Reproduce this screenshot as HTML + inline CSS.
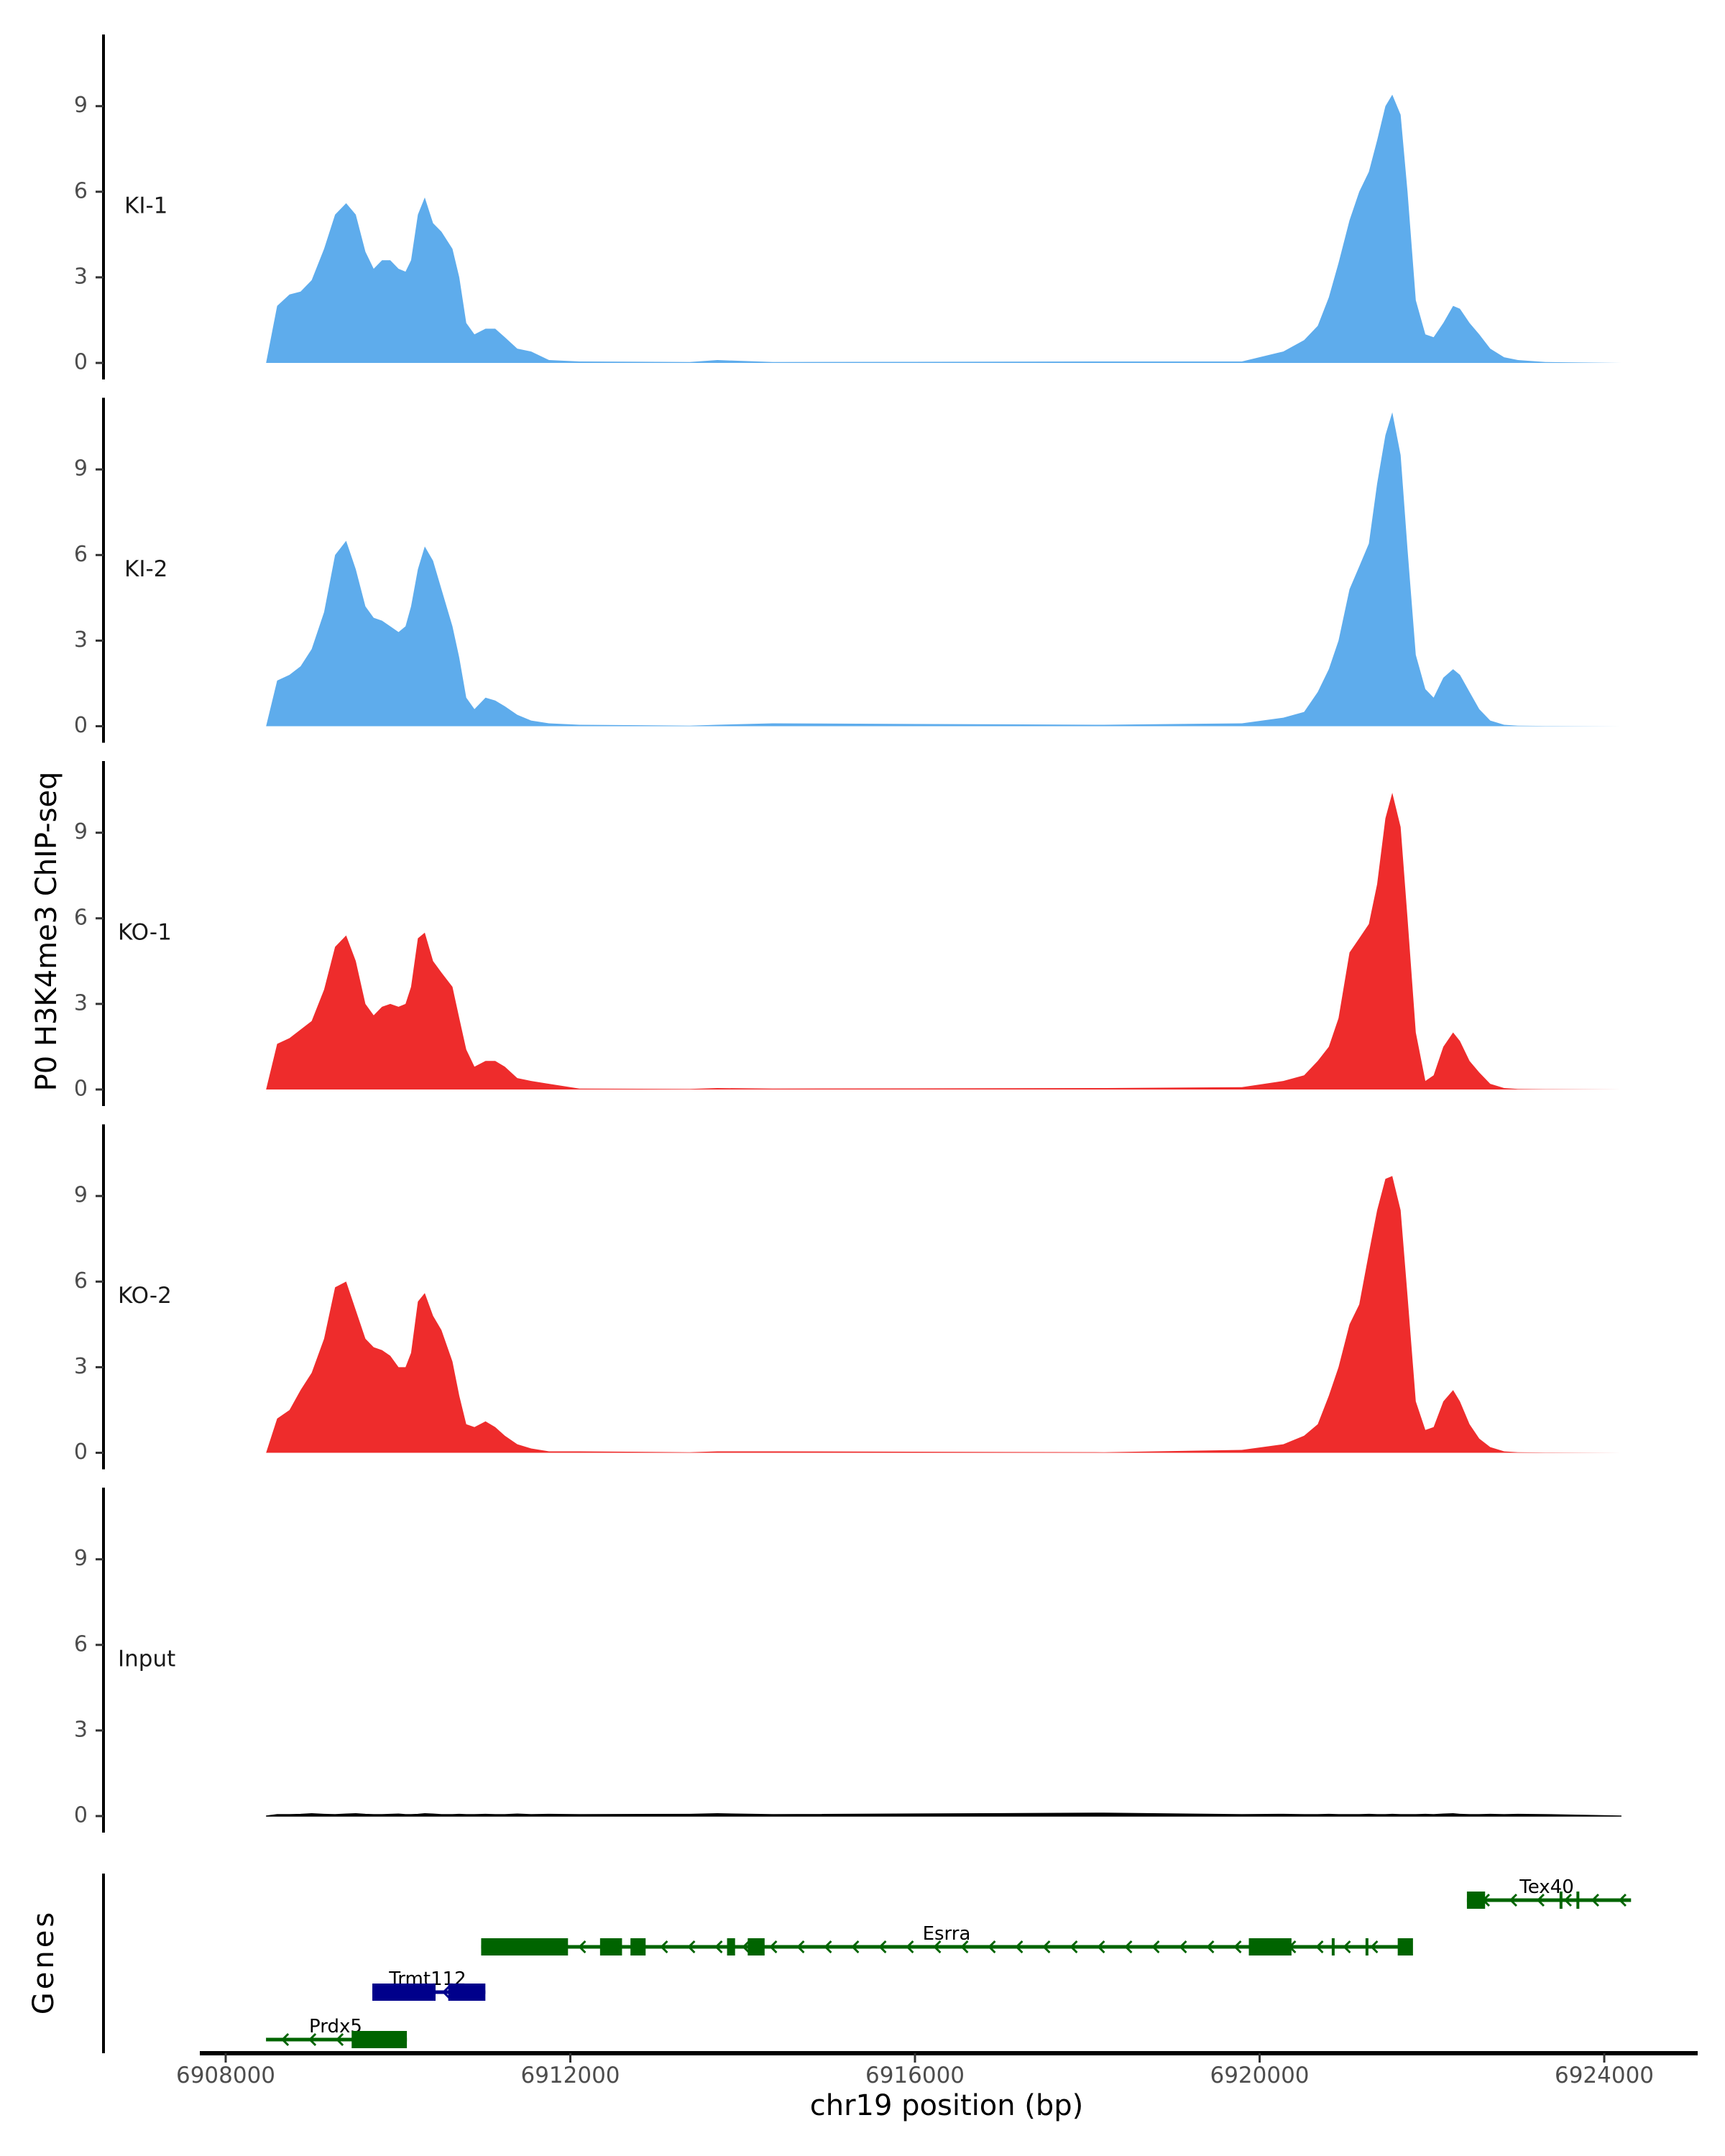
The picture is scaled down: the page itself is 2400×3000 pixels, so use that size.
<!DOCTYPE html>
<html><head><meta charset="utf-8"><style>
html,body{margin:0;padding:0;background:#fff}
svg{display:block;font-family:"DejaVu Sans","Liberation Sans",sans-serif}
</style></head><body>
<svg id="chart" width="2400" height="3000" viewBox="0 0 2400 3000" xmlns="http://www.w3.org/2000/svg">
<text x="67" y="1296" transform="rotate(-90 67 1296)" font-size="40" text-anchor="middle" dominant-baseline="middle" fill="#000">P0 H3K4me3 ChIP-seq</text>
<text x="63" y="2730" transform="rotate(-90 63 2730)" font-size="40" text-anchor="middle" dominant-baseline="middle" fill="#000" letter-spacing="4">Genes</text>
<text x="1317" y="2943" font-size="40" text-anchor="middle" fill="#000">chr19 position (bp)</text>
</svg>
<script>
const positions=[6908469,6908597,6908741,6908869,6908998,6909142,6909270,6909398,6909510,6909622,6909718,6909814,6909910,6910006,6910087,6910151,6910231,6910311,6910407,6910504,6910632,6910711,6910792,6910887,6911016,6911128,6911240,6911384,6911545,6911753,6912106,6913386,6913707,6914348,6918192,6919794,6920275,6920516,6920675,6920803,6920916,6921044,6921156,6921268,6921364,6921460,6921540,6921637,6921717,6921813,6921924,6922020,6922132,6922246,6922325,6922437,6922549,6922677,6922838,6922998,6923318,6924199];
const ki1=[0,2.0,2.4,2.5,2.9,4.0,5.2,5.6,5.2,3.9,3.3,3.6,3.6,3.3,3.2,3.6,5.2,5.8,4.9,4.6,4.0,3.0,1.4,1.0,1.2,1.2,0.9,0.5,0.4,0.1,0.05,0.03,0.1,0.03,0.05,0.05,0.4,0.8,1.3,2.3,3.5,5.0,6.0,6.7,7.8,9.0,9.4,8.7,6.0,2.2,1.0,0.9,1.4,2.0,1.9,1.4,1.0,0.5,0.2,0.1,0.03,0];
const ki2=[0,1.6,1.8,2.1,2.7,4.0,6.0,6.5,5.5,4.2,3.8,3.7,3.5,3.3,3.5,4.2,5.5,6.3,5.8,4.8,3.5,2.4,1.0,0.6,1.0,0.9,0.7,0.4,0.2,0.1,0.05,0.02,0.05,0.1,0.05,0.1,0.3,0.5,1.2,2.0,3.0,4.8,5.6,6.4,8.5,10.2,11.0,9.5,6.2,2.5,1.3,1.0,1.7,2.0,1.8,1.2,0.6,0.2,0.05,0.02,0.01,0];
const ko1=[0,1.6,1.8,2.1,2.4,3.5,5.0,5.4,4.5,3.0,2.6,2.9,3.0,2.9,3.0,3.6,5.3,5.5,4.5,4.1,3.6,2.5,1.4,0.8,1.0,1.0,0.8,0.4,0.3,0.2,0.03,0.02,0.05,0.03,0.05,0.08,0.3,0.5,1.0,1.5,2.5,4.8,5.3,5.8,7.2,9.5,10.4,9.2,6.0,2.0,0.3,0.5,1.5,2.0,1.7,1.0,0.6,0.2,0.05,0.02,0.01,0];
const ko2=[0,1.2,1.5,2.2,2.8,4.0,5.8,6.0,5.0,4.0,3.7,3.6,3.4,3.0,3.0,3.5,5.3,5.6,4.8,4.3,3.2,2.0,1.0,0.9,1.1,0.9,0.6,0.3,0.15,0.05,0.05,0.02,0.05,0.05,0.02,0.1,0.3,0.6,1.0,2.0,3.0,4.5,5.2,7.0,8.5,9.6,9.7,8.5,5.5,1.8,0.8,0.9,1.8,2.2,1.8,1.0,0.5,0.2,0.05,0.02,0.01,0];
const inputVals=[0,0.05,0.05,0.06,0.08,0.06,0.05,0.07,0.08,0.06,0.05,0.05,0.06,0.07,0.05,0.05,0.06,0.08,0.07,0.05,0.05,0.06,0.05,0.05,0.06,0.05,0.05,0.07,0.05,0.06,0.05,0.06,0.08,0.05,0.1,0.05,0.06,0.05,0.05,0.06,0.05,0.05,0.05,0.06,0.05,0.05,0.06,0.05,0.05,0.05,0.06,0.05,0.07,0.08,0.06,0.05,0.05,0.06,0.05,0.06,0.05,0];
const trackNames=["KI-1","KI-2","KO-1","KO-2","Input"];
const trackColors=["#5eacec","#5eacec","#ee2c2c","#ee2c2c","#000000"];
const yTicks=[0,3,6,9];
const xTicks=[6908000,6912000,6916000,6920000,6924000];
const geneNames=["Tex40","Esrra","Trmt112","Prdx5"];
const geneStarts=[6922406,6910965,6909702,6908468];
const geneEnds=[6924311,6921745,6911014,6910103];
const geneColors=["#006400","#006400","#00008b","#006400"];
const exonGene=[0,1,1,1,1,1,1,1,2,2,3];
const exonStarts=[6922406,6910965,6912345,6912698,6913819,6914059,6919875,6921603,6909702,6910583,6909462];
const exonEnds=[6922617,6911973,6912600,6912874,6913912,6914255,6920370,6921780,6910436,6911014,6910103];
const tickGene=[0,0,1,1];
const tickPos=[6923498,6923694,6920854,6921246];
const labelPos=[6923333,6916367,6910344,6909276];

const NS="http://www.w3.org/2000/svg";
const svg=document.getElementById("chart");
function xs(bp){return 314+(bp-6908000)/4000*479.5;}
const unit=39.7;
function zeroY(i){return 505+i*505.5;}
function el(tag,attrs,parent){const e=document.createElementNS(NS,tag);for(const k in attrs)e.setAttribute(k,attrs[k]);(parent||svg).appendChild(e);return e;}
const series=[ki1,ki2,ko1,ko2,inputVals];
for(let t=0;t<5;t++){
  const z=zeroY(t);
  const g=el("g",{});
  
  
  const ax=el("line",{x1:144,x2:144,y1:z-457,y2:z+23,stroke:"#000","stroke-width":4},g);
  
  
  yTicks.forEach(v=>{
    const y=z-v*unit;
    const tk=el("line",{x1:133,x2:144,y1:y,y2:y,stroke:"#333","stroke-width":3},g);
    
    
    const lb=el("text",{x:122,y:y,"font-size":30,fill:"#4d4d4d","text-anchor":"end","dominant-baseline":"middle"},g);
    lb.textContent=v;
    
    
  });
  const tl=el("text",{x:t>=2?164:173,y:z-217,"font-size":31,fill:"#1a1a1a","dominant-baseline":"middle"},g);
  tl.textContent=trackNames[t];
  
  
  const vals=series[t];
  let d="M"+xs(positions[0])+","+z;
  for(let i=0;i<positions.length;i++)d+=" L"+xs(positions[i]).toFixed(1)+","+(z-vals[i]*unit).toFixed(1);
  d+=" L"+xs(positions[positions.length-1])+","+z+" Z";
  const p=el("path",{d:d,fill:trackColors[t],stroke:t===4?"#000":"none","stroke-width":t===4?1.5:0},g);
  
  
}
const gax=el("line",{x1:144,x2:144,y1:2607,y2:2857,stroke:"#000","stroke-width":4});


const xax=el("line",{x1:278,x2:2362,y1:2857,y2:2857,stroke:"#000","stroke-width":6});


xTicks.forEach(v=>{
  const x=xs(v);
  const tk=el("line",{x1:x,x2:x,y1:2857,y2:2870,stroke:"#333","stroke-width":3});
  
  
  const lb=el("text",{x:x,y:2898,"font-size":31,fill:"#4d4d4d","text-anchor":"middle"});
  lb.textContent=v;
  
  
});
const rowY=[2644,2709,2772,2838];
for(let g=0;g<geneNames.length;g++){
  const y=rowY[g];const c=geneColors[g];
  const grp=el("g",{});
  
  
  el("line",{x1:xs(geneStarts[g]),x2:xs(geneEnds[g]),y1:y,y2:y,stroke:c,"stroke-width":5},grp);
  for(let x=xs(geneStarts[g])+25;x<xs(geneEnds[g])-10;x+=38){
    const ch=el("path",{d:`M${x+6},${y-8} L${x-2},${y} L${x+6},${y+8}`,fill:"none",stroke:c,"stroke-width":3},grp);
    
    
  }
  const lb=el("text",{x:xs(labelPos[g]),y:y-10,"font-size":26,fill:"#000","text-anchor":"middle"},grp);
  lb.textContent=geneNames[g];
  
  
}
for(let e=0;e<exonStarts.length;e++){
  const g=exonGene[e];const y=rowY[g];
  const r=el("rect",{x:xs(exonStarts[e]),y:y-12,width:Math.max(6,xs(exonEnds[e])-xs(exonStarts[e])),height:24,fill:geneColors[g]});
  
  
}
for(let k=0;k<tickPos.length;k++){
  const y=rowY[tickGene[k]];
  const r=el("rect",{x:xs(tickPos[k])-2,y:y-12,width:4,height:24,fill:geneColors[tickGene[k]]});
  
  
}
</script>
</body></html>
